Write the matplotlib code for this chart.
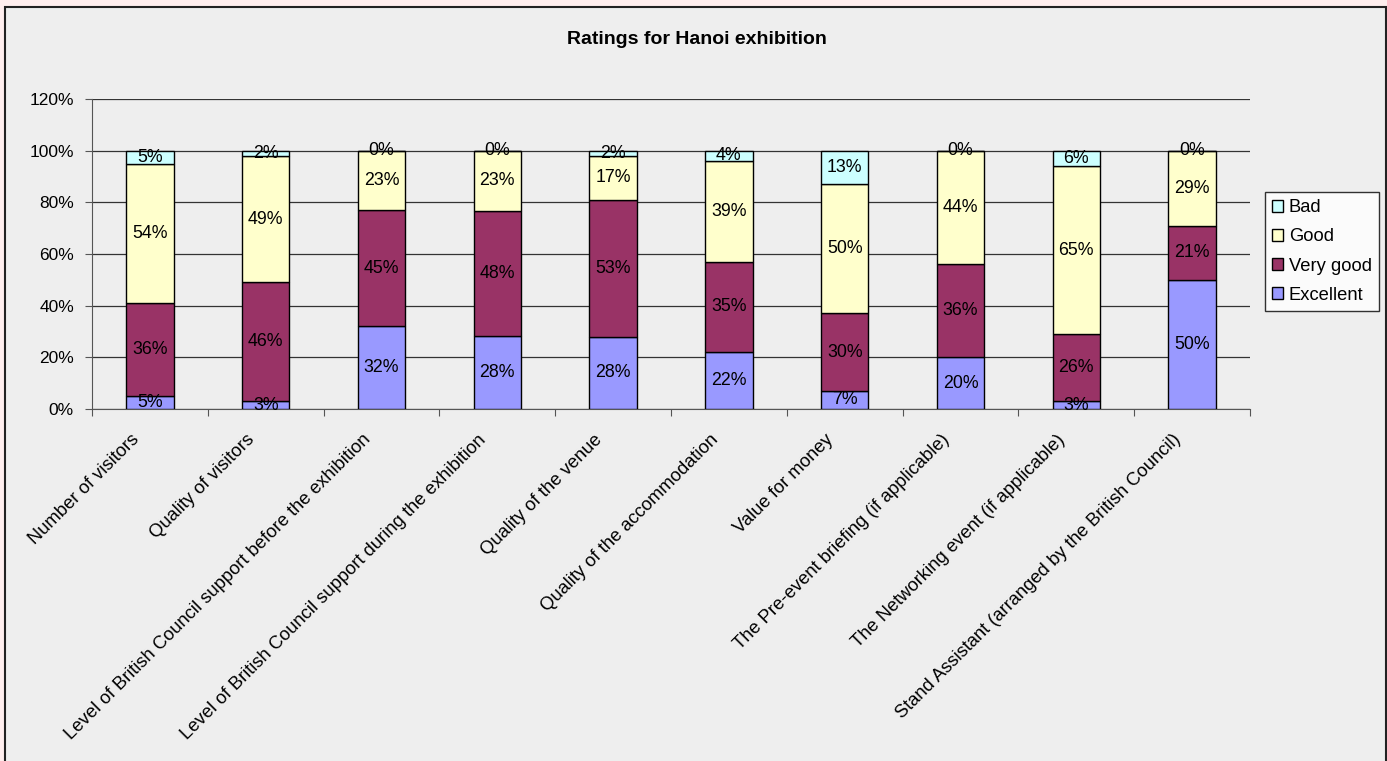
import matplotlib
matplotlib.use("Agg")
import matplotlib.pyplot as plt
import numpy as np
from matplotlib.patches import Rectangle

plt.rcParams['font.family'] = ['Liberation Sans', 'DejaVu Sans']

categories = [
    "Number of visitors",
    "Quality of visitors",
    "Level of British Council support before the exhibition",
    "Level of British Council support during the exhibition",
    "Quality of the venue",
    "Quality of the accommodation",
    "Value for money",
    "The Pre-event briefing (if applicable)",
    "The Networking event (if applicable)",
    "Stand Assistant (arranged by the British Council)",
]
series_names = ["Excellent", "Very good", "Good", "Bad"]
excellent = [5, 3, 32, 28.3, 28, 22, 7, 20, 3, 50]
very_good = [36, 46, 45, 48.4, 53, 35, 30, 36, 26, 21]
good = [54, 49, 23, 23.3, 17, 39, 50, 44, 65, 29]
bad = [5, 2, 0, 0, 2, 4, 13, 0, 6, 0]
y_ticks = [0, 20, 40, 60, 80, 100, 120]
title = "Ratings for Hanoi exhibition"

colors = ["#9999FF", "#993366", "#FFFFCC", "#CCFFFF"]

W, H = 1387, 761
fig = plt.figure(figsize=(W / 100, H / 100), dpi=100, facecolor="#FFEEEE")

# chart area panel behind everything
fig.patches.append(Rectangle((5 / W, -0.05), (1386 - 5) / W, (H - 7) / H + 0.05,
                             transform=fig.transFigure, facecolor="#EEEEEE",
                             edgecolor="#222222", linewidth=1.5, zorder=-10))

ax = fig.add_axes([92 / W, 1 - 409 / H, (1250 - 92) / W, (409 - 99) / H])
ax.set_zorder(1)
ax.set_facecolor("#EEEEEE")

x = np.arange(len(categories))
width = 0.41
fs = 12.8
bottom = np.zeros(len(categories))
for name, vals, col in zip(series_names, [excellent, very_good, good, bad], colors):
    vals = np.array(vals, dtype=float)
    ax.bar(x, vals, width, bottom=bottom, color=col, edgecolor="black",
           linewidth=1.0, label=name, zorder=3)
    for xi, b, v in zip(x, bottom, vals):
        ax.text(xi, b + v / 2, f"{v:.0f}%", ha="center", va="center",
                fontsize=fs, color="black", zorder=4)
    bottom += vals

ax.set_ylim(0, 120)
ax.set_xlim(-0.5, len(categories) - 0.5)
ax.set_yticks(y_ticks)
ax.set_yticklabels([f"{t}%" for t in y_ticks], fontsize=12.5)
ax.yaxis.grid(True, color="#333333", linewidth=0.9, zorder=1)
ax.set_axisbelow(True)
for s in ["top", "right"]:
    ax.spines[s].set_visible(False)
ax.spines["left"].set_color("#555555")
ax.spines["bottom"].set_color("#555555")
ax.tick_params(axis="y", length=5, color="#555555", pad=8)

ax.set_xticks(np.arange(len(categories) + 1) - 0.5)
ax.set_xticklabels([])
ax.tick_params(axis="x", length=5, color="#555555")
for xi, lab in zip(x, categories):
    ax.annotate(lab, xy=(xi, 0), xycoords=("data", "axes fraction"),
                xytext=(-14, -16), textcoords="offset points",
                rotation=45, rotation_mode="anchor", ha="right", va="top",
                fontsize=13.2)

fig.text(697 / W, 1 - 39 / H, title, ha="center", va="center",
         fontsize=14, fontweight="bold")

handles, labels = ax.get_legend_handles_labels()
leg = fig.legend(handles[::-1], labels[::-1], loc="upper left",
                 bbox_to_anchor=(1265 / W, 1 - 192 / H), fontsize=13.2,
                 frameon=True, fancybox=False, edgecolor="black",
                 handlelength=0.6, handleheight=0.6, handletextpad=0.3,
                 labelspacing=0.66, borderpad=0.4, borderaxespad=0)
leg.get_frame().set_facecolor("white")
leg.get_frame().set_linewidth(1.0)
leg.set_zorder(5)

fig.savefig("out.png", dpi=100, facecolor=fig.get_facecolor())
